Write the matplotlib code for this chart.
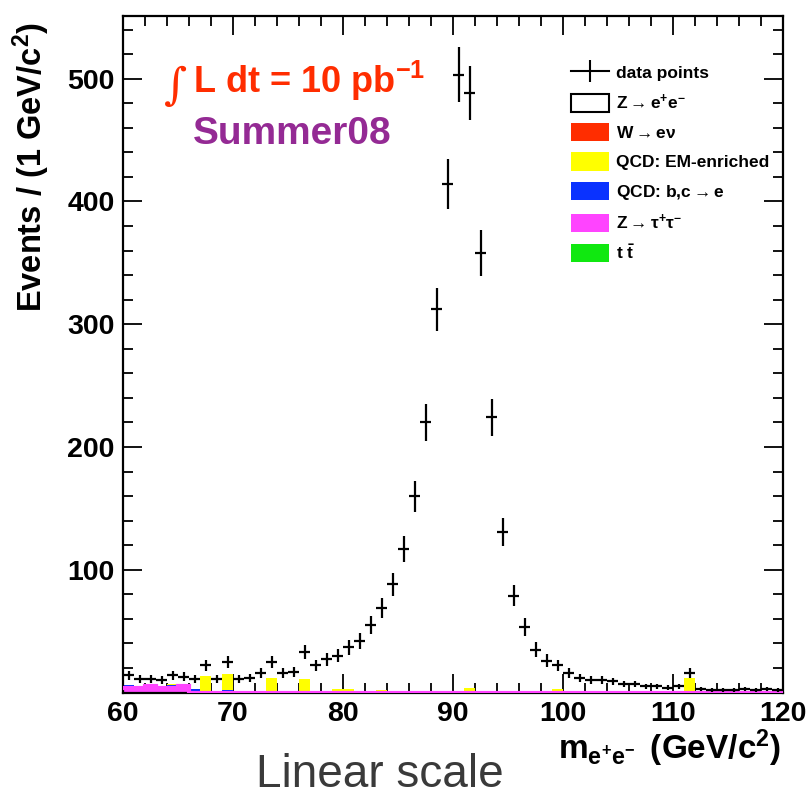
import numpy as np
import matplotlib
matplotlib.use("Agg")
import matplotlib.pyplot as plt
from matplotlib.lines import Line2D
from matplotlib.patches import Patch
from matplotlib.ticker import MultipleLocator

# ---------------- data (1 GeV bins from 60 to 120 GeV/c^2) ----------------
mass_range = (60, 120)
bin_width = 1

data_counts = [14, 11, 11, 10, 14, 13, 11, 22, 11, 25,
               11, 12, 16, 25, 16, 17, 33, 22, 27, 30,
               37, 42, 55, 69, 88, 117, 160, 220, 312, 414,
               503, 488, 358, 224, 131, 79, 53, 35, 26, 22,
               16, 12, 10, 10, 9, 7, 7, 5, 5, 4,
               5, 16, 3, 2, 2, 2, 3, 2, 3, 2]

ztautau = [4, 3.5, 5.5, 3.5, 3.5, 5.5, 0, 0, 0, 0,
           0, 0, 0, 0, 0, 0, 0, 0, 0, 0,
           0, 0, 0, 0, 0, 0, 0, 0, 0, 0,
           0, 0, 0, 0, 0, 0, 0, 0, 0, 0,
           0, 0, 0, 0, 0, 0, 0, 0, 0, 0,
           0, 0, 0, 0, 0, 0, 0, 0, 0, 0]
wenu = [0, 0, 0, 0, 1, 0, 1.5, 1.5, 1.5, 1.5,
        0, 0, 0, 0, 0, 0, 0, 0, 0, 1.5,
        0, 0, 0, 0, 0, 0, 0, 0, 0, 0,
        0, 0, 0, 0, 0, 0, 0, 0, 0, 0,
        0, 0, 0, 0, 0, 0, 0, 0, 0, 0,
        0, 0, 0, 0, 0, 0, 0, 0, 0, 0]
ttbar = [1, 0, 0, 0, 0, 0, 0, 0, 0, 0,
         1, 0.8, 0, 1, 1, 0, 0, 0, 0, 0,
         0, 0, 0, 0, 0, 0, 0, 0, 0, 0,
         0, 0, 0, 0, 0, 0, 0, 0, 0, 0,
         0, 0, 0, 0, 0, 0, 0, 0, 0, 0,
         0, 0, 0, 0, 0, 0, 0, 0, 0, 0]
qcd_bc = [1, 0.8, 0, 1, 1.5, 0, 1.2, 0, 0, 0.8,
          0, 0, 1.5, 0, 0, 1, 0, 0, 1.5, 0,
          1.5, 0, 0, 1, 0, 0, 0, 0, 0, 0,
          0, 0, 0, 0, 0, 0, 1, 0, 0, 1.5,
          0, 0, 0, 0, 0, 0, 0, 0, 0, 0,
          0, 0, 0, 0, 0, 0, 0, 0, 0, 0]
qcd_em = [0, 0, 0, 0, 1, 0, 0, 12, 0, 13,
          0, 0, 0, 11, 0, 0, 11, 0, 0, 1,
          1, 0, 0, 0.8, 0, 0, 0, 0, 0, 0,
          0, 3.5, 0, 1, 1, 0, 0, 0, 0, 1,
          1, 0, 0, 0, 0, 0.8, 0, 0.8, 0, 0,
          0, 12, 0, 0, 0, 0, 0, 0, 0, 0]

legend_labels = ["data points",
                 r"Z$\rightarrow$e$^{+}$e$^{-}$",
                 r"W$\rightarrow$e$\nu$",
                 "QCD: EM-enriched",
                 r"QCD: b,c$\rightarrow$e",
                 r"Z$\rightarrow\tau^{+}\tau^{-}$",
                 r"t $\bar{\mathrm{t}}$"]

x_ticks = [60, 70, 80, 90, 100, 110, 120]
y_ticks = [100, 200, 300, 400, 500]

# ---------------- style ----------------
plt.rcParams["font.family"] = ["Liberation Sans", "DejaVu Sans"]
plt.rcParams["font.weight"] = "bold"
plt.rcParams["mathtext.fontset"] = "custom"
plt.rcParams["mathtext.rm"] = "Liberation Sans:bold"
plt.rcParams["mathtext.it"] = "Liberation Sans:bold"
plt.rcParams["mathtext.bf"] = "Liberation Sans:bold"
plt.rcParams["mathtext.sf"] = "Liberation Sans:bold"
plt.rcParams["mathtext.default"] = "rm"

c_red = "#ff2d00"
c_yellow = "#ffff00"
c_blue = "#0a32ff"
c_magenta = "#ff44ff"
c_green = "#10e810"

W, H = 809, 806
fig = plt.figure(figsize=(W / 100, H / 100), dpi=100)
ax = fig.add_axes([123 / W, 1 - 692.5 / H, 660 / W, (692.5 - 16) / H])

edges = np.arange(mass_range[0], mass_range[1] + bin_width, bin_width)
centers = 0.5 * (edges[:-1] + edges[1:])

# stacked MC backgrounds (bottom -> top)
stack = [(ztautau, c_magenta), (wenu, c_red), (ttbar, c_green),
         (qcd_bc, c_blue), (qcd_em, c_yellow)]
base = np.zeros(len(centers))
for vals, col in stack:
    top = base + np.asarray(vals, dtype=float)
    ax.stairs(top, edges, baseline=base, fill=True, color=col, lw=0, zorder=2)
    base = top
ax.stairs(np.asarray(ztautau, dtype=float), edges, baseline=None,
          color=c_magenta, lw=3, zorder=2.6)

# data
counts = np.asarray(data_counts, dtype=float)
ax.errorbar(centers, counts, xerr=bin_width / 2, yerr=np.sqrt(counts),
            fmt="none", ecolor="black", elinewidth=1.6, capsize=0, zorder=4)

ax.set_xlim(*mass_range)
ax.set_ylim(0, 551)
ax.set_xticks(x_ticks)
ax.set_yticks(y_ticks)
ax.xaxis.set_minor_locator(MultipleLocator(2))
ax.yaxis.set_minor_locator(MultipleLocator(20))
ax.tick_params(which="both", direction="in", top=True, right=True,
               width=1.3, labelsize=20.5)
ax.tick_params(which="major", length=14)
ax.tick_params(which="minor", length=7)
ax.tick_params(axis="y", pad=6)
ax.tick_params(axis="x", pad=6)
for lab in ax.get_xticklabels() + ax.get_yticklabels():
    lab.set_fontweight("bold")
for sp in ax.spines.values():
    sp.set_linewidth(1.6)

# legend
handles = [Line2D([0], [0], color="black", lw=1.5, marker="|",
                  markersize=16, markeredgewidth=1.5),
           Patch(facecolor="white", edgecolor="black", lw=1.5),
           Patch(facecolor=c_red, edgecolor="none"),
           Patch(facecolor=c_yellow, edgecolor="none"),
           Patch(facecolor=c_blue, edgecolor="none"),
           Patch(facecolor=c_magenta, edgecolor="none"),
           Patch(facecolor=c_green, edgecolor="none")]
ax.legend(handles, legend_labels, loc="upper left",
          bbox_to_anchor=(571 / W, 1 - 63 / H), bbox_transform=fig.transFigure,
          frameon=False, handlelength=2.2, handleheight=1.27,
          labelspacing=0.62, handletextpad=0.42, borderpad=0, borderaxespad=0,
          prop={"weight": "bold", "size": 12.5})

# annotations
fig.text(164 / W, 1 - 99 / H, "\u222b", fontsize=32, color=c_red,
         family="DejaVu Serif", fontweight="normal", va="baseline")
fig.text(193 / W, 1 - 93 / H, r"L dt = 10 pb$^{-1}$", fontsize=26,
         color=c_red, fontweight="bold", va="baseline")
fig.text(193 / W, 1 - 144 / H, "Summer08", fontsize=28, color="#942a94",
         fontweight="bold", va="baseline")

fig.text(31 / W, 1 - 22 / H, r"Events / (1 GeV/c$^{2}$)", rotation=90,
         ha="center", va="top", fontsize=23.5, fontweight="bold")
fig.text(781 / W, 1 - 748 / H,
         r"m$_{\mathregular{e^{+}e^{-}}}$$\,$ (GeV/c$^{2}$)",
         ha="right", va="center", fontsize=24, fontweight="bold")
fig.text(380 / W, 1 - 775 / H, "Linear scale", ha="center", va="center",
         fontsize=33, fontweight="normal", color="#3a3a3a")

fig.savefig("out.png", dpi=100)
